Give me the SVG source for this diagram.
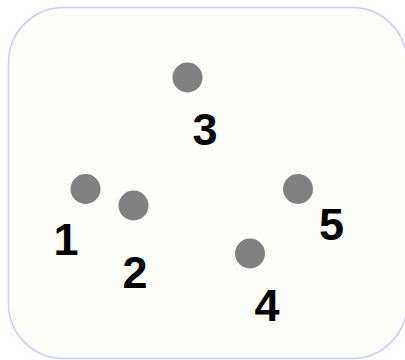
<svg xmlns="http://www.w3.org/2000/svg" width="405" height="360" viewBox="0 0 405 360">
<style>
.n{fill:#808080}
.t{font-family:"Liberation Sans",Arial,sans-serif;font-weight:bold;font-size:45px;fill:#000;text-anchor:middle}
</style>
<rect x="0" y="0" width="405" height="360" fill="#ffffff"/>
<rect x="8.5" y="7.5" width="398.5" height="351" rx="55" ry="55" fill="#fdfdfa" stroke="#ccccff" stroke-width="1.5"/>
<g id="connectors"></g>
<g id="node1"><circle class="n" cx="85.5" cy="189" r="15"/><text class="t" x="66" y="255">1</text></g>
<g id="node2"><circle class="n" cx="133.5" cy="205.5" r="15"/><text class="t" x="135" y="288">2</text></g>
<g id="node3"><circle class="n" cx="187.5" cy="77.5" r="15"/><text class="t" x="205" y="145">3</text></g>
<g id="node4"><circle class="n" cx="250" cy="253.5" r="15"/><text class="t" x="267" y="321">4</text></g>
<g id="node5"><circle class="n" cx="298" cy="189" r="15"/><text class="t" x="331.5" y="240">5</text></g>
</svg>
